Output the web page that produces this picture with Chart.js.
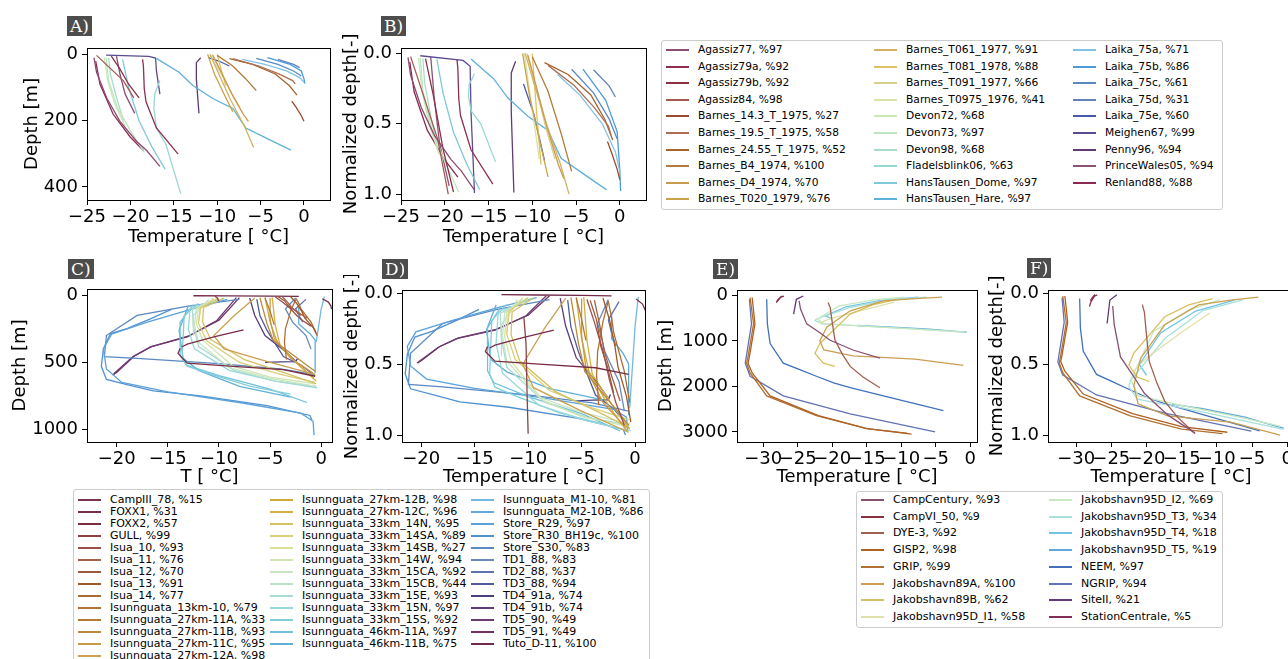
<!DOCTYPE html>
<html>
<head>
<meta charset="utf-8">
<script src="https://cdn.jsdelivr.net/npm/chart.js@4.4.1/dist/chart.umd.min.js"></script>
<style>
html, body { margin: 0; padding: 0; background: #fff; width: 1288px; height: 659px; overflow: hidden; position: relative; }
.panel { position: absolute; }
.tag { position: absolute; background: #4d4d4d; color: #fff; font-family: "DejaVu Serif", serif; font-size: 17px; line-height: 20px; height: 20px; padding: 0 3px; }
.legend { position: absolute; border: 1px solid #cccccc; border-radius: 3px; background: #fff; font-family: "DejaVu Sans", sans-serif; color: #000; }
.item { position: absolute; white-space: nowrap; line-height: 14px; height: 14px; }
.item i { position: absolute; left: 0; top: 6px; width: 23px; height: 0; border-top: 2px solid; }
.item span { position: absolute; }
</style>
</head>
<body>
<script>
// ---- A / B : Canadian Arctic + small ice caps ----
const names1 = ['Agassiz77', 'Agassiz79a', 'Agassiz79b', 'Agassiz84', 'Barnes_14.3_T_1975', 'Barnes_19.5_T_1975',
  'Barnes_24.55_T_1975', 'Barnes_B4_1974', 'Barnes_D4_1974', 'Barnes_T020_1979', 'Barnes_T061_1977', 'Barnes_T081_1978',
  'Barnes_T091_1977', 'Barnes_T0975_1976', 'Devon72', 'Devon73', 'Devon98', 'Fladelsblink06', 'HansTausen_Dome',
  'HansTausen_Hare', 'Laika_75a', 'Laika_75b', 'Laika_75c', 'Laika_75d', 'Laika_75e', 'Meighen67', 'Penny96',
  'PrinceWales05', 'Renland88'];
const pct1 = [97, 92, 92, 98, 27, 58, 52, 100, 70, 76, 91, 88, 66, 41, 68, 97, 68, 63, 97, 97, 71, 86, 61, 31, 60, 99, 94, 94, 88];
const colors1 = ['#8b4b72', '#8e2f52', '#8c3044', '#a35a52', '#9a4a30', '#ad6e55', '#a6632c', '#b27c3c', '#c99b52',
  '#c9a24a', '#d2b262', '#dcc264', '#d9d08c', '#dbe2a6', '#cbe8b4', '#c0e4c2', '#a9ddca', '#99d8d2', '#7fc8da',
  '#5fb1d9', '#82c2e2', '#4c9bd8', '#5a89c2', '#6282ba', '#4959a9', '#5b4b92', '#623a72', '#8a527a', '#8a2a52'];
const temp1 = [
  [-24.2, -23.9, -22.7, -21.2, -19.3, -18.1, -16.6],
  [-18.6, -18.5, -18.4, -18.2, -17.0, -14.5],
  [-22.2, -21.3, -20.2, -19.0],
  [-23.9, -22.4, -20.8, -19.6],
  [-1.4, -0.9, -0.3, 0.0],
  [-8.2, -5.2, -2.9, -1.3, -1.0],
  [-8.6, -5.9, -3.3, -1.7, -0.8],
  [-10.0, -8.2, -6.7, -5.5],
  [-10.5, -9.6, -8.3, -7.0, -6.4],
  [-11.1, -10.3, -9.2, -8.2],
  [-10.8, -9.8, -8.4, -6.8, -5.8],
  [-10.0, -9.5, -9.0],
  [-10.6, -9.6, -8.5, -7.4],
  [-10.9, -10.0, -9.2],
  [-23.0, -22.6, -21.8, -20.6],
  [-22.8, -22.5, -21.5, -20.0, -18.4],
  [-22.5, -22.3, -21.6, -20.8],
  [-16.6, -17.2, -17.3, -17.0, -15.9, -14.2],
  [-20.9, -20.2, -19.0, -17.5, -16.0],
  [-17.0, -14.4, -12.8, -10.5, -8.2, -6.7, -4.4, -1.5],
  [-7.1, -4.5, -2.0, -0.5, 0.0],
  [-4.2, -1.6, -0.3, 0.0, 0.1],
  [-5.5, -3.0, -1.2, -0.3],
  [-3.0, -1.2, -0.5],
  [-11.0, -9.8, -8.6],
  [-22.8, -17.9, -17.1, -17.0, -16.6],
  [-11.9, -12.4, -12.4, -12.1],
  [-21.6, -21.2, -20.6, -19.5],
  [-24.0, -23.5, -22.0, -20.0, -18.5]
];
const depth1 = [
  [10, 54, 133, 202, 262, 291, 338],
  [15, 35, 104, 143, 222, 301],
  [5, 40, 90, 131],
  [3, 40, 80, 131],
  [141, 160, 185, 202],
  [13, 35, 59, 79, 89],
  [13, 30, 59, 94, 123],
  [3, 35, 74, 109],
  [3, 50, 120, 180, 202],
  [0, 60, 120, 173],
  [0, 60, 140, 220, 281],
  [0, 50, 94],
  [0, 50, 110, 160],
  [0, 40, 75],
  [10, 80, 150, 217],
  [10, 80, 160, 230, 296],
  [10, 60, 130, 200],
  [79, 120, 163, 222, 272, 420],
  [15, 100, 200, 280, 346],
  [12, 54, 94, 133, 163, 222, 252, 289],
  [15, 30, 50, 70, 84],
  [10, 30, 50, 74, 88],
  [12, 30, 50, 65],
  [15, 30, 40],
  [10, 20, 35],
  [2, 6, 11, 50, 120],
  [10, 25, 74, 178],
  [5, 60, 120, 178],
  [20, 90, 180, 250, 290]
];
const thick1 = [348, 324, 133, 131, 225, 153, 200, 130, 227, 197, 281, 119, 213, 100, 300, 300, 290, 545, 357, 298,
  100, 90, 107, 129, 46, 121, 180, 189, 330];

// ---- C / D : Greenland margin boreholes ----
const names2 = ['CampIII_78', 'FOXX1', 'FOXX2', 'GULL', 'Isua_10', 'Isua_11', 'Isua_12', 'Isua_13', 'Isua_14',
  'Isunnguata_13km-10', 'Isunnguata_27km-11A', 'Isunnguata_27km-11B', 'Isunnguata_27km-11C', 'Isunnguata_27km-12A',
  'Isunnguata_27km-12B', 'Isunnguata_27km-12C', 'Isunnguata_33km_14N', 'Isunnguata_33km_14SA', 'Isunnguata_33km_14SB',
  'Isunnguata_33km_14W', 'Isunnguata_33km_15CA', 'Isunnguata_33km_15CB', 'Isunnguata_33km_15E', 'Isunnguata_33km_15N',
  'Isunnguata_33km_15S', 'Isunnguata_46km-11A', 'Isunnguata_46km-11B', 'Isunnguata_M1-10', 'Isunnguata_M2-10B',
  'Store_R29', 'Store_R30_BH19c', 'Store_S30', 'TD1_88', 'TD2_88', 'TD3_88', 'TD4_91a', 'TD4_91b', 'TD5_90', 'TD5_91',
  'Tuto_D-11'];
const pct2 = [15, 31, 57, 99, 93, 76, 70, 91, 77, 79, 33, 93, 95, 98, 98, 96, 95, 89, 27, 94, 92, 44, 93, 97, 92, 97,
  75, 81, 86, 97, 100, 83, 83, 37, 94, 74, 74, 49, 49, 100];
const colors2 = ['#7b3353', '#7a2c4a', '#7a2c42', '#8a4242', '#9b5049', '#a2624a', '#9c5a3a', '#9c5a2a', '#aa6c32',
  '#b07132', '#b37a32', '#b98a3a', '#c9994a', '#caa152', '#d1a93a', '#d2b142', '#d5c162', '#d9d07a', '#d9e09a',
  '#d1e5b2', '#c9e5c2', '#b9e0ca', '#a9dcd2', '#99d8da', '#81cdda', '#71c1da', '#61b1d6', '#71b9e2', '#61a9da',
  '#5ba1da', '#5191d2', '#5b89c2', '#6a89ba', '#6071b2', '#515a9a', '#4b3d82', '#5b3b7a', '#6b3b72', '#713262',
  '#722a4a'];
const temp2 = [
  [0.1, 0.7, 0.95, 1.0],
  [-7.6, -10.5, -13.1, -13.6],
  [-13.8, -14.0, -13.1, -8.6, -3.7, -0.6],
  [-10.4, -10.2, -10.1, -10.0],
  [-4.5, -3.8, -3.0, -2.4, -1.8, -1.0],
  [-3.8, -3.3, -2.9, -2.2, -1.4],
  [-4.2, -3.6, -3.2, -2.6, -2.0],
  [-3.0, -2.4, -1.9, -1.6, -0.8, -0.4],
  [-2.5, -2.2, -2.0, -1.0, -0.5],
  [-2.5, -3.0, -3.5, -3.6, -3.4],
  [-5.5, -5.0, -4.6],
  [-6.0, -5.3, -4.7, -2.1, -0.6],
  [-5.0, -5.0, -4.6, -3.0, -0.8],
  [-6.5, -8.5, -10.5, -9.5, -5.0, -0.6],
  [-5.5, -5.0, -4.3, -2.5, -0.7],
  [-4.8, -4.5, -4.0, -2.2, -0.5],
  [-9.5, -11.5, -11.6, -10.8, -7.5, -3.5, -0.5],
  [-10.0, -11.8, -12.0, -11.2, -8.0, -4.0, -0.6],
  [-10.5, -11.8, -12.0],
  [-10.2, -12.0, -12.2, -11.6, -8.6, -5.0, -0.6],
  [-10.5, -12.2, -12.4, -12.0, -9.0, -5.0, -0.5],
  [-11.0, -12.5, -12.5],
  [-10.0, -12.6, -12.5, -12.0, -8.5, -4.5, -0.5],
  [-9.5, -12.8, -13.0, -12.4, -9.0, -4.5, -0.4],
  [-12.0, -13.4, -13.6, -13.1, -11.2, -7.0, -3.0],
  [-12.5, -13.8, -13.8, -13.2, -10.0, -5.0, -1.4],
  [-13.0, -13.9, -13.5, -12.0, -8.0, -3.0],
  [0.3, 0.0, -0.3, -0.5],
  [-2.2, -2.2, -1.1, -0.6, -0.6],
  [-9.2, -13.0, -17.0, -20.5, -21.3, -21.0, -19.5, -15.0, -8.0, -2.0, -0.8, -0.7],
  [-14.6, -16.7, -19.0, -20.6, -21.3, -21.5, -21.0, -18.4, -16.4, -11.8, -5.3, -1.1, -0.9],
  [-8.0, -13.0, -18.0, -21.0, -21.2, -18.0, -10.0, -4.0, -0.6],
  [-2.5, -3.5, -2.8, -1.5, -1.0],
  [-1.5, -2.5, -2.2, -1.8],
  [-6.3, -6.0, -5.3, -4.5, -3.7, -2.0, -0.6],
  [-5.5, -4.0, -2.5, -2.3],
  [-7.0, -6.5, -5.5, -3.5, -2.5],
  [-8.3, -10.2, -13.1, -16.7, -18.4, -20.2, -20.3],
  [-8.0, -10.0, -13.0, -16.5, -18.3, -20.0, -20.4],
  [-12.5, -9.0, -5.0, -2.2]
];
const depth2 = [
  [25, 50, 80, 103],
  [257, 310, 364, 384],
  [396, 433, 506, 530, 555, 604],
  [7, 15, 30, 42],
  [10, 50, 100, 150, 190, 230],
  [10, 50, 90, 130, 170],
  [10, 40, 80, 110, 150],
  [10, 60, 120, 170, 240, 300],
  [20, 60, 100, 200, 280],
  [30, 120, 250, 350, 480],
  [20, 120, 220],
  [17, 213, 335, 482, 567],
  [20, 180, 320, 470, 580],
  [20, 150, 300, 400, 500, 590],
  [15, 200, 350, 500, 620],
  [15, 220, 380, 520, 640],
  [20, 90, 200, 330, 480, 580, 660],
  [20, 90, 210, 340, 500, 590, 650],
  [20, 100, 190],
  [25, 90, 213, 335, 530, 610, 660],
  [25, 100, 220, 350, 540, 620, 680],
  [30, 150, 300],
  [30, 100, 230, 380, 560, 640, 680],
  [25, 90, 250, 400, 560, 640, 690],
  [60, 150, 457, 530, 579, 677, 738],
  [70, 200, 450, 520, 600, 700, 800],
  [80, 260, 470, 560, 680, 760],
  [10, 100, 250, 350],
  [90, 213, 286, 335, 580],
  [30, 110, 200, 290, 400, 550, 650, 720, 800, 880, 940, 1044],
  [103, 176, 249, 286, 400, 530, 628, 677, 714, 750, 824, 897, 934],
  [30, 80, 150, 300, 457, 470, 510, 550, 592],
  [20, 100, 200, 300, 400],
  [30, 100, 150, 200],
  [29, 150, 262, 360, 457, 520, 600],
  [500, 497, 495, 470],
  [20, 150, 300, 420, 490],
  [17, 188, 310, 384, 457, 579, 592],
  [17, 185, 305, 380, 455, 575, 595],
  [3, 4, 5, 7]
];
const thick2 = [686, 1000, 1060, 42.4, 247, 224, 214, 330, 364, 608, 667, 610, 610, 602, 633, 667, 695, 730, 704, 702,
  739, 682, 731, 711, 802, 825, 1013, 432, 674, 1076, 934, 713, 482, 540, 638, 660, 662, 1208, 1214, 450];

// ---- E / F : Greenland deep boreholes ----
const names3 = ['CampCentury', 'CampVI_50', 'DYE-3', 'GISP2', 'GRIP', 'Jakobshavn89A', 'Jakobshavn89B',
  'Jakobshavn95D_I1', 'Jakobshavn95D_I2', 'Jakobshavn95D_T3', 'Jakobshavn95D_T4', 'Jakobshavn95D_T5', 'NEEM', 'NGRIP',
  'SiteII', 'StationCentrale'];
const pct3 = [93, 9, 92, 98, 99, 100, 62, 58, 69, 34, 18, 19, 97, 94, 21, 5];
const colors3 = ['#8a5070', '#883040', '#a06050', '#b06022', '#b07032', '#c8a050', '#d8c062', '#e0e0aa', '#c8e8c2',
  '#a8e0da', '#72c2e2', '#60a8da', '#4271ba', '#6272b2', '#623a7a', '#803058'];
const temp3 = [
  [-24.8, -24.6, -23.7, -22.0, -20.3, -17.0, -13.1],
  [-27.0, -27.4, -27.9, -28.1],
  [-20.6, -20.3, -20.0, -19.6, -18.5, -17.4, -15.5, -13.1],
  [-31.6, -31.2, -32.0, -32.2, -31.6, -29.0, -22.0, -15.0, -8.5],
  [-31.9, -31.4, -32.2, -32.4, -31.9, -29.5, -22.3, -15.0, -9.2],
  [-4.1, -8.0, -12.6, -17.4, -20.8, -21.8, -21.2, -17.0, -8.0, -1.0],
  [-10.6, -14.0, -17.4, -21.8, -22.5, -21.3, -19.6],
  [-11.0, -15.0, -20.0, -21.8, -21.5],
  [-9.5, -14.0, -19.0, -22.2, -21.2, -15.0, -8.0, -1.0],
  [-6.3, -12.0, -17.4, -22.3, -22.5, -21.3, -12.6, -0.5],
  [-7.5, -13.0, -18.0, -21.0, -20.0],
  [-16.4, -12.0, -6.0, -2.0, -0.5],
  [-29.5, -29.4, -29.0, -27.1, -24.7, -22.3, -19.8, -17.4, -12.6, -3.9],
  [-32.0, -31.7, -32.6, -31.9, -27.1, -17.4, -5.1],
  [-24.2, -25.2, -25.6],
  [-27.3, -27.6, -28.0]
];
const depth3 = [
  [122, 300, 626, 800, 986, 1200, 1381],
  [14, 30, 100, 158],
  [158, 266, 600, 986, 1300, 1561, 1800, 2029],
  [50, 626, 1345, 1489, 1705, 2209, 2640, 2928, 3050],
  [50, 626, 1345, 1489, 1705, 2209, 2640, 2928, 3025],
  [36, 70, 122, 338, 700, 1000, 1200, 1330, 1400, 1540],
  [86, 200, 410, 1057, 1273, 1489, 1561],
  [150, 300, 500, 600, 640],
  [36, 100, 230, 520, 620, 680, 740, 806],
  [36, 100, 266, 518, 554, 626, 698, 806],
  [40, 110, 250, 450, 520],
  [662, 690, 740, 790, 806],
  [86, 626, 1057, 1489, 1633, 1777, 1921, 2029, 2209, 2532],
  [86, 626, 1489, 1777, 2209, 2604, 2999],
  [14, 86, 410],
  [15, 60, 140]
];
const thick3 = [1400, 1750, 2050, 3112, 3055, 1540, 2518, 1100, 860, 840, 900, 848, 2610, 3085, 1950, 2900];

// tick labels
const ticksTempAB = [-25, -20, -15, -10, -5, 0];
const ticksDepthA = [0, 200, 400];
const ticksTempCD = [-20, -15, -10, -5, 0];
const ticksDepthC = [0, 500, 1000];
const ticksTempEF = [-30, -25, -20, -15, -10, -5, 0];
const ticksDepthE = [0, 1000, 2000, 3000];
const ticksNorm = [0, 0.5, 1];

const FONT = "'DejaVu Sans', sans-serif";

function series(names, temps, depths, colors, thick, normalized) {
  return names.map((n, i) => ({
    label: n,
    data: temps[i].map((t, k) => ({ x: t, y: normalized ? depths[i][k] / thick[i] : depths[i][k] })),
    showLine: true,
    borderColor: colors[i],
    backgroundColor: colors[i],
    borderWidth: 1.3,
    pointRadius: 0,
    fill: false
  }));
}

const frame = {
  id: 'frame',
  afterDraw(c) {
    const a = c.chartArea, ctx = c.ctx;
    ctx.save();
    ctx.strokeStyle = '#000';
    ctx.lineWidth = 1;
    ctx.strokeRect(Math.round(a.left) + 0.5, Math.round(a.top) + 0.5, Math.round(a.right - a.left), Math.round(a.bottom - a.top));
    ctx.restore();
  }
};

function panel(p) {
  const padT = 12, padR = p.padR || 14, xh = 52;
  const yw = p.l - p.cl;
  const W = p.r - p.cl + padR, H = p.b - p.t + padT + xh;
  const div = document.createElement('div');
  div.className = 'panel';
  div.style.left = p.cl + 'px';
  div.style.top = (p.t - padT) + 'px';
  div.style.width = W + 'px';
  div.style.height = H + 'px';
  const cv = document.createElement('canvas');
  div.appendChild(cv);
  document.body.appendChild(div);
  const lh = 18 * 1.2;
  const yPad = p.ytX - p.cl - lh / 2;
  const xPad = (p.t - padT + H) - lh / 2 - p.xtY;
  const fmt = v => (p.dec ? v.toFixed(1) : String(v)).replace('-', '\u2212');
  const tickFont = { family: FONT, size: 18 };
  new Chart(cv, {
    type: 'scatter',
    data: { datasets: p.data },
    options: {
      responsive: true,
      maintainAspectRatio: false,
      animation: false,
      layout: { padding: { top: padT, right: padR, left: 0, bottom: 0 } },
      plugins: { legend: { display: false }, tooltip: { enabled: false } },
      scales: {
        x: {
          type: 'linear', min: p.xmin, max: p.xmax,
          afterFit(s) { s.height = xh; },
          afterBuildTicks(s) { s.ticks = p.xticks.map(v => ({ value: v })); },
          ticks: { font: tickFont, color: '#000', padding: 2, maxRotation: 0, autoSkip: false, callback: v => String(v).replace('-', '\u2212') },
          grid: { drawOnChartArea: false, drawTicks: true, tickLength: 5, color: '#000', tickColor: '#000' },
          border: { display: false },
          title: { display: true, text: p.xtitle, font: tickFont, color: '#000', padding: { top: 0, bottom: xPad } }
        },
        y: {
          type: 'linear', min: p.ymin, max: p.ymax, reverse: true,
          afterFit(s) { s.width = yw; },
          afterBuildTicks(s) { s.ticks = p.yticks.map(v => ({ value: v })); },
          ticks: { font: tickFont, color: '#000', padding: 4, autoSkip: false, callback: v => fmt(v) },
          grid: { drawOnChartArea: false, drawTicks: true, tickLength: 5, color: '#000', tickColor: '#000' },
          border: { display: false },
          title: { display: true, text: p.ytitle, font: tickFont, color: '#000', padding: { top: yPad, bottom: 0 } }
        }
      }
    },
    plugins: [frame]
  });
}

function tag(text, x, y) {
  const d = document.createElement('div');
  d.className = 'tag';
  d.style.left = x + 'px';
  d.style.top = y + 'px';
  d.textContent = text;
  document.body.appendChild(d);
}

// colCounts: how many entries each legend column holds (matplotlib fills columns top to bottom)
function legend(box, names, pct, colors, colCounts, cols, y0, dy, fs) {
  const lg = document.createElement('div');
  lg.className = 'legend';
  lg.style.left = box[0] + 'px';
  lg.style.top = box[1] + 'px';
  lg.style.width = box[2] + 'px';
  lg.style.height = box[3] + 'px';
  lg.style.fontSize = fs + 'px';
  let c = 0, r = 0;
  names.forEach((n, i) => {
    if (r >= colCounts[c]) { c++; r = 0; }
    const it = document.createElement('div');
    it.className = 'item';
    it.style.left = cols[c] + 'px';
    it.style.top = (y0 + r * dy - 7) + 'px';
    const h = document.createElement('i');
    h.style.borderColor = colors[i];
    const s = document.createElement('span');
    s.style.left = '32px';
    s.textContent = n + ', %' + pct[i];
    it.appendChild(h);
    it.appendChild(s);
    lg.appendChild(it);
    r++;
  });
  document.body.appendChild(lg);
}

const T = 'Temperature [ \u00B0C]';

panel({ cl: 8, l: 87, t: 45, r: 330, b: 200, xmin: -25, xmax: 3, ymin: -19.9, ymax: 439.4,
  xticks: ticksTempAB, yticks: ticksDepthA, xtitle: T, ytitle: 'Depth [m]', ytX: 32, xtY: 237.5,
  data: series(names1, temp1, depth1, colors1, thick1, false) });
panel({ cl: 335, l: 401, t: 45, r: 646, b: 200, xmin: -25, xmax: 3, ymin: -0.04, ymax: 1.042, dec: true,
  xticks: ticksTempAB, yticks: ticksNorm, xtitle: T, ytitle: 'Normalized depth[-]', ytX: 351, xtY: 237.5,
  data: series(names1, temp1, depth1, colors1, thick1, true) });
panel({ cl: 4, l: 87, t: 286, r: 332, b: 442, xmin: -22.9, xmax: 1.05, ymin: -49, ymax: 1095,
  xticks: ticksTempCD, yticks: ticksDepthC, xtitle: 'T [ \u00B0C]', ytitle: 'Depth [m]', ytX: 20, xtY: 477,
  data: series(names2, temp2, depth2, colors2, thick2, false) });
panel({ cl: 338, l: 402, t: 287, r: 645, b: 442, xmin: -21.8, xmax: 0.93, ymin: -0.028, ymax: 1.049, dec: true,
  xticks: ticksTempCD, yticks: ticksNorm, xtitle: T, ytitle: 'Normalized depth [-]', ytX: 352, xtY: 477,
  data: series(names2, temp2, depth2, colors2, thick2, true) });
panel({ cl: 652, l: 737, t: 287, r: 977, b: 442, xmin: -33.8, xmax: 0.97, ymin: -123, ymax: 3222,
  xticks: ticksTempEF, yticks: ticksDepthE, xtitle: T, ytitle: 'Depth [m]', ytX: 666, xtY: 477,
  data: series(names3, temp3, depth3, colors3, thick3, false) });
panel({ cl: 983, l: 1048, t: 287, r: 1294, b: 442, padR: 4, xmin: -34, xmax: 0.97, ymin: -0.028, ymax: 1.049, dec: true,
  xticks: ticksTempEF, yticks: ticksNorm, xtitle: T, ytitle: 'Normalized depth[-]', ytX: 997, xtY: 477,
  data: series(names3, temp3, depth3, colors3, thick3, true) });

tag('A)', 67, 16);
tag('B)', 381, 16);
tag('C)', 68, 259);
tag('D)', 382, 259);
tag('E)', 713, 259);
tag('F)', 1027, 258);

legend([661, 40, 560, 168], names1, pct1, colors1, [10, 10, 9], [4, 212, 411], 9, 16.6, 10.7);
legend([73, 489, 575, 200], names2, pct2, colors2, [14, 13, 13], [4, 196, 397], 9.5, 12.03, 11);
legend([856, 491, 365, 135], names3, pct3, colors3, [8, 8], [4, 192], 8, 16.7, 11);
</script>
</body>
</html>
